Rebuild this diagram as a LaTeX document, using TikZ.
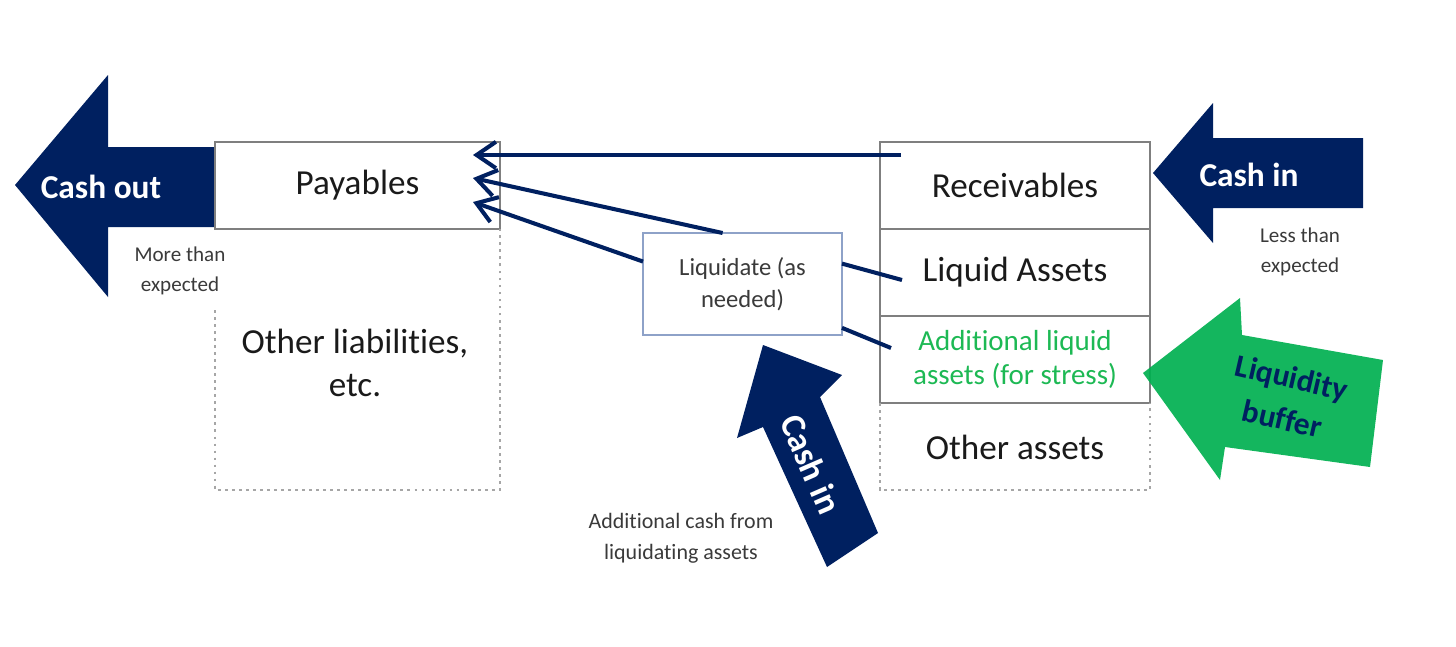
\documentclass[tikz,border=0pt]{standalone}
\usepackage{fontspec}
\setmainfont[Ligatures=NoCommon]{Carlito}
\usetikzlibrary{arrows.meta,calc}
\definecolor{navy}{HTML}{002060}
\definecolor{bufgreen}{HTML}{00B050}
\definecolor{greentext}{HTML}{1DB954}
\definecolor{boxgray}{HTML}{7F7F7F}
\definecolor{dotgray}{HTML}{A6A6A6}
\definecolor{liqblue}{HTML}{8EA2C8}
\definecolor{txt}{HTML}{1A1A1A}
\definecolor{smalltxt}{HTML}{3A3A3A}
\begin{document}
\begin{tikzpicture}[x=0.02cm,y=-0.02cm,
  cell/.style={draw=boxgray,line width=1.1pt,fill=white,minimum width=5.4cm,minimum height=1.74cm,
    inner sep=0pt,outer sep=0pt,text=txt,align=center,font=\fontsize{20}{24}\selectfont},
  dotline/.style={draw=dotgray,line width=1.1pt,dash pattern=on 1.6pt off 2.4pt},
  bigarrow/.style={fill=navy,draw=none},
  arrowlabel/.style={text=white,font=\fontsize{19}{23}\selectfont\bfseries},
  note/.style={text=smalltxt,align=center,font=\fontsize{12}{17}\selectfont},
  conn/.style={draw=navy,line width=2.3pt},
  connarrow/.style={conn,-{Straight Barb[length=11pt,width=15pt]}},
  bigtext/.style={text=txt,align=center,font=\fontsize{20}{24}\selectfont}
]
\useasboundingbox (0,0) rectangle (1456,646);

% Cash out arrow
\fill[bigarrow] (15,185) -- (108,75) -- (108,147) -- (215,147) -- (215,227) -- (108,227) -- (108,297) -- cycle;
\node[arrowlabel] (cashout) at (101,187) {Cash out};

% Payables and other liabilities
\node[cell,minimum width=5.7cm] (pay) at (357.5,185.5) {\raisebox{-2pt}{Payables}};
\draw[dotline] (215,310) -- (215,490) -- (500,490) -- (500,229);
\node[bigtext] (othliab) at (355,363) {Other liabilities,\\etc.};
\node[note] (more) at (180,271) {More than\\expected};

% Asset side
\node[cell] (rcv) at (1015,185.5) {Receivables};
\node[cell] (liqa) at (1015,272.5) {Liquid Assets};
\node[cell,text=greentext,font=\fontsize{16.5}{19.5}\selectfont] (addl) at (1015,359.5) {Additional liquid\\assets (for stress)};
\draw[dotline] (880,403) -- (880,490) -- (1150,490) -- (1150,403);
\node[bigtext] (otha) at (1015,447) {Other assets};

% Cash in (right)
\fill[bigarrow] (1153,173) -- (1213,103) -- (1213,138) -- (1363,138) -- (1363,208) -- (1213,208) -- (1213,243) -- cycle;
\node[arrowlabel] (cashinr) at (1249,175) {Cash in};
\node[note] (less) at (1300,252) {Less than\\expected};

% Liquidity buffer
\fill[bufgreen,fill opacity=0.92] (1143,373) -- (1240,298) -- (1242,335) -- (1383,360) -- (1370,467) -- (1225,447) -- (1220,480) -- cycle;
\node[text=navy,align=center,rotate=-13,font=\fontsize{18}{24}\selectfont\bfseries] (buffer) at (1287,398) {Liquidity\\buffer};

% Liquidate box
\node[draw=liqblue,line width=1.1pt,fill=white,minimum width=3.98cm,minimum height=2.04cm,inner sep=0pt,outer sep=0pt,
  text=smalltxt,align=center,font=\fontsize{14}{18}\selectfont] (liq) at (742.5,284) {Liquidate (as\\needed)};

% Cash in (bottom)
\fill[bigarrow] (763,345) -- (842,375) -- (820,397) -- (878,533) -- (827,567) -- (763,427) -- (737,438) -- cycle;
\node[arrowlabel,rotate=-66.5,inner sep=0pt,font=\fontsize{20}{24}\selectfont\bfseries] (cashinb) at (811,464) {Cash in};
\node[note,font=\fontsize{12.5}{17.5}\selectfont] (addcash) at (681,538) {Additional cash from\\liquidating assets};

% Connectors
\coordinate (t1) at (473,155);
\coordinate (t2) at (473,178);
\coordinate (t3) at (473,202);
\coordinate (r1) at (901,155);
\coordinate (la) at (902,280);
\coordinate (ad) at (891,348);
\draw[connarrow] (r1) -- (t1);
\draw[connarrow] ($(liq.north west)!0.4!(liq.north east)$) -- (t2);
\draw[connarrow] ($(liq.north west)!0.28!(liq.south west)$) -- (t3);
\draw[conn] ($(liq.north east)!0.3!(liq.south east)$) -- (la);
\draw[conn] ($(liq.north east)!0.93!(liq.south east)$) -- (ad);
\end{tikzpicture}
\end{document}
